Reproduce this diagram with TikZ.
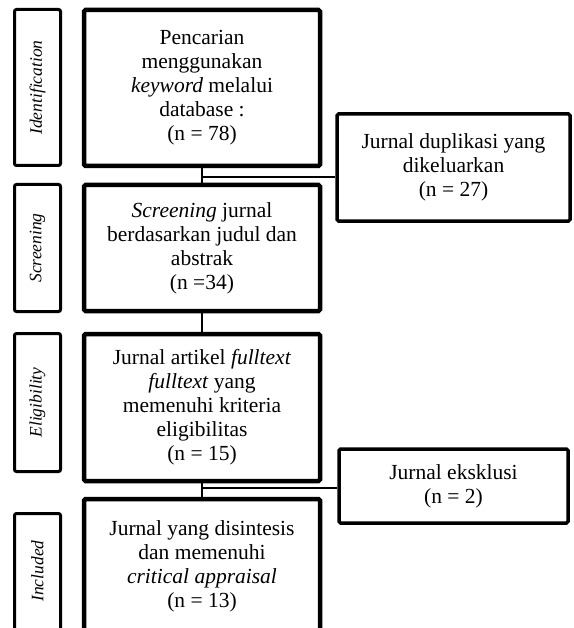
\documentclass[tikz,border=0pt]{standalone}
\usepackage{fontspec}
\setmainfont{Liberation Serif}
\begin{document}
\begin{tikzpicture}[x=1pt,y=-1pt,
  mainbox/.style={draw=black, line width=4.5pt, rounded corners=1.5pt, align=center,
    inner sep=0pt, font=\fontsize{21.5}{24}\selectfont},
  sidebox/.style={draw=black, line width=3.5pt, rounded corners=1.5pt, align=center,
    inner sep=0pt, font=\fontsize{21.5}{24}\selectfont},
  labelbox/.style={draw=black, line width=3pt, rounded corners=2pt, inner sep=0pt,
    minimum width=46pt},
  labeltext/.style={rotate=90, font=\fontsize{17.5}{20}\selectfont\itshape, inner sep=0pt},
  conn/.style={draw=black, line width=1.6pt}]
\useasboundingbox (0,0) rectangle (573,628);
\clip (0,0) rectangle (573,628);
% left stage labels
\node[labelbox, minimum height=156pt] (l1) at (37.5,87.5) {};
\node[labeltext] (t1) at (l1.center) {Identification};
\node[labelbox, minimum height=127pt] (l2) at (37.5,248) {};
\node[labeltext] (t2) at (l2.center) {Screening};
\node[labelbox, minimum height=138pt] (l3) at (37.5,402.5) {};
\node[labeltext] (t3) at (l3.center) {Eligibility};
\node[labelbox, minimum height=140pt] (l4) at (37.5,583.5) {};
\node[labeltext] (t4) at (37.5,571) {Included};
% main boxes
\node[mainbox, minimum width=236pt, minimum height=156pt] (b1) at (202,88)
  {Pencarian\\ menggunakan\\ \textit{keyword} melalui\\ database :\\ (n = 78)};
\node[mainbox, minimum width=236pt, minimum height=126pt] (b2) at (202,248)
  {\textit{Screening} jurnal\\ berdasarkan judul dan\\ abstrak\\ (n =34)};
\node[mainbox, minimum width=236pt, minimum height=147pt] (b3) at (202,407.5)
  {Jurnal artikel \textit{fulltext}\\ \textit{fulltext} yang\\ memenuhi kriteria\\ eligibilitas\\ (n = 15)};
\node[mainbox, minimum width=236pt, minimum height=140pt] (b4) at (202,569) {};
\node[align=center, inner sep=0pt, font=\fontsize{21.5}{24}\selectfont] (b4t) at (202,566)
  {Jurnal yang disintesis\\ dan memenuhi\\ \textit{critical appraisal}\\ (n = 13)};
% side boxes
\node[sidebox, minimum width=233pt, minimum height=107pt] (r1) at (453.5,167.5)
  {Jurnal duplikasi yang\\ dikeluarkan\\ (n = 27)};
\node[sidebox, minimum width=229pt, minimum height=74pt] (r2) at (453.5,486)
  {Jurnal eksklusi\\ (n = 2)};
% connectors
\coordinate (j1) at (202,177);
\coordinate (j2) at (202,488);
\draw[conn] (b1.south) -- (b2.north);
\draw[conn] (b2.south) -- (b3.north);
\draw[conn] (b3.south) -- (b4.north);
\draw[conn] (j1) -- (j1 -| r1.west);
\draw[conn] (j2) -- (j2 -| r2.west);
\end{tikzpicture}
\end{document}
